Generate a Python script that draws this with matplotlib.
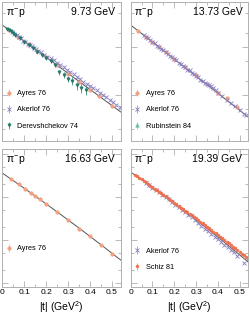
import matplotlib
matplotlib.use('Agg')
import matplotlib.pyplot as plt
from matplotlib.ticker import LogLocator, MultipleLocator, NullFormatter, FuncFormatter

plt.rcParams['font.family'] = ['Liberation Sans', 'DejaVu Sans']
plt.rcParams['mathtext.fontset'] = 'custom'
plt.rcParams['mathtext.rm'] = 'Liberation Sans'
plt.rcParams['mathtext.it'] = 'Liberation Sans'

# ---- 9.73 GeV ----
fit1_t = [0.0, 0.18, 0.36, 0.54]
fit1_y = [28.7, 7.15, 1.78, 0.444]
ayres1_t = [0.03, 0.07, 0.12, 0.16, 0.20, 0.25, 0.30, 0.35, 0.40, 0.44, 0.50]
ayres1_y = [22.9, 16.5, 11.4, 8.3, 6.1, 4.15, 2.8, 1.9, 1.28, 0.94, 0.6]
akerlof1_t = [0.045, 0.055, 0.065, 0.075, 0.085, 0.095, 0.105, 0.115, 0.125, 0.135,
              0.145, 0.155, 0.165, 0.175, 0.19, 0.205, 0.22, 0.235, 0.25, 0.265,
              0.28, 0.295, 0.31, 0.325, 0.34, 0.355, 0.37, 0.385, 0.40, 0.415,
              0.43, 0.445, 0.46, 0.475, 0.49, 0.505, 0.52, 0.535]
akerlof1_y = [20.6, 18.5, 17.6, 16.0, 15.2, 13.6, 13.0, 11.7, 11.1, 10.3,
              9.5, 8.9, 8.2, 7.7, 6.9, 6.3, 5.8, 5.3, 4.7, 4.2,
              3.8, 3.35, 3.0, 2.7, 2.4, 2.15, 1.9, 1.72, 1.55, 1.4,
              1.25, 1.12, 1.0, 0.9, 0.8, 0.7, 0.63, 0.56]
derev1_t = [0.02, 0.03, 0.04, 0.05, 0.06, 0.08, 0.10, 0.12, 0.14, 0.16, 0.18,
            0.20, 0.22, 0.24, 0.26, 0.28, 0.30, 0.32, 0.34, 0.36, 0.38]
derev1_y = [24.0, 23.0, 21.1, 19.5, 18.0, 15.2, 13.0, 11.0, 9.5, 7.9, 6.9,
            5.8, 5.1, 4.3, 3.0, 2.6, 2.2, 2.0, 1.6, 1.4, 1.3]
derev1_rel = [0.04, 0.04, 0.04, 0.04, 0.05, 0.05, 0.05, 0.05, 0.06, 0.06, 0.07,
              0.08, 0.10, 0.10, 0.12, 0.14, 0.15, 0.18, 0.20, 0.20, 0.22]

# ---- 13.73 GeV ----
fit2_t = [0.0, 0.18, 0.36, 0.54]
fit2_y = [28.7, 6.59, 1.51, 0.347]
ayres2_t = [0.035, 0.07, 0.10, 0.13, 0.16, 0.20, 0.25, 0.30, 0.35, 0.40, 0.44, 0.49]
ayres2_y = [21.6, 16.4, 12.8, 10.1, 7.9, 5.7, 3.85, 2.6, 1.7, 1.12, 0.85, 0.55]
akerlof2_t = [0.06, 0.07, 0.08, 0.09, 0.10, 0.11, 0.12, 0.13, 0.14, 0.15,
              0.16, 0.17, 0.18, 0.19, 0.20, 0.21, 0.22, 0.23, 0.24, 0.25,
              0.26, 0.27, 0.28, 0.29, 0.30, 0.31, 0.32, 0.33, 0.34, 0.35,
              0.36, 0.37, 0.38, 0.39, 0.40, 0.42, 0.44, 0.46, 0.48, 0.50, 0.52, 0.53]
akerlof2_y = [17.9, 16.0, 15.2, 13.9, 12.5, 11.9, 10.7, 10.1, 9.0, 8.6,
              7.7, 7.3, 6.5, 6.2, 5.55, 5.3, 4.7, 4.5, 4.0, 3.8,
              3.4, 3.25, 2.9, 2.75, 2.45, 2.35, 2.08, 1.98, 1.76, 1.68,
              1.6, 1.52, 1.38, 1.25, 1.12, 0.95, 0.8, 0.68, 0.58, 0.49, 0.41, 0.375]
rubin2_t = []
rubin2_y = []

# ---- 16.63 GeV ----
fit3_t = [0.0, 0.09, 0.18, 0.27, 0.36, 0.45, 0.54]
fit3_y = [36.1, 17.4, 8.2, 3.81, 1.74, 0.778, 0.343]
ayres3_t = [0.04, 0.075, 0.105, 0.13, 0.15, 0.17, 0.20, 0.25, 0.30, 0.35, 0.40, 0.45, 0.50]
ayres3_y = [26.0, 19.8, 15.1, 12.7, 10.4, 9.1, 6.8, 4.6, 2.9, 1.85, 1.26, 0.77, 0.48]

# ---- 19.39 GeV ----
fit4_t = [0.0, 0.09, 0.18, 0.27, 0.36, 0.45, 0.54]
fit4_y = [38.1, 18.3, 8.51, 3.85, 1.71, 0.733, 0.308]
akerlof4_t = [0.07, 0.085, 0.10, 0.115, 0.13, 0.145, 0.16, 0.175, 0.19, 0.205,
              0.22, 0.235, 0.25, 0.265, 0.28, 0.295, 0.31, 0.325, 0.34, 0.355,
              0.37, 0.385, 0.40, 0.415, 0.43, 0.445, 0.46, 0.475, 0.49, 0.52]
akerlof4_y = [21.0, 18.8, 16.5, 14.6, 13.0, 11.3, 10.0, 8.8, 7.6, 6.7,
              5.9, 5.1, 4.45, 3.85, 3.35, 2.9, 2.5, 2.15, 1.85, 1.6,
              1.4, 1.2, 1.05, 0.9, 0.78, 0.68, 0.6, 0.53, 0.43, 0.3]
schiz4_t = [0.02, 0.03, 0.04, 0.05, 0.06, 0.07, 0.08, 0.09, 0.10, 0.11,
            0.12, 0.13, 0.14, 0.15, 0.16, 0.17, 0.18, 0.19, 0.20, 0.21,
            0.22, 0.23, 0.24, 0.25, 0.26, 0.27, 0.28, 0.29, 0.30, 0.31,
            0.32, 0.33, 0.34, 0.35, 0.36, 0.37, 0.38, 0.39, 0.40, 0.41,
            0.42, 0.43, 0.44, 0.45, 0.46, 0.47, 0.48, 0.49, 0.50, 0.51,
            0.52, 0.53, 0.54]
schiz4_y = [33.0, 30.3, 27.9, 25.6, 23.8, 21.8, 20.2, 18.5, 17.1, 15.7,
            14.5, 13.2, 12.3, 11.2, 10.3, 9.5, 8.7, 8.0, 7.35, 6.75,
            6.2, 5.7, 5.25, 4.85, 4.45, 4.1, 3.78, 3.46, 3.2, 2.93,
            2.68, 2.46, 2.25, 2.06, 1.88, 1.73, 1.58, 1.44, 1.32, 1.2,
            1.1, 1.0, 0.92, 0.84, 0.77, 0.7, 0.64, 0.58, 0.53, 0.48,
            0.44, 0.4, 0.36]

c_ayres = '#f4a07f'
c_akerlof = '#8a7fc0'
c_derev = '#1f7a68'
c_rubin = '#6dbfa8'
c_schiz = '#f0704e'
c_fit = '#555555'
c_frame = '#b0b0b0'


def pts(ax, t, y, rel, color, marker, label, ms=2.4, mfc=None):
    if isinstance(rel, float):
        err = [rel * v for v in y]
    else:
        err = [r * v for r, v in zip(rel, y)]
    return ax.errorbar(t, y, yerr=err, fmt=marker, color=color, ms=ms,
                       mfc=mfc if mfc else color, mec=color, mew=0.6,
                       elinewidth=0.5, capsize=0, label=label)


def style(ax, ylim, bottom):
    ax.set_yscale('log')
    ax.set_xlim(0, 0.54)
    ax.set_ylim(*ylim)
    ax.xaxis.set_major_locator(MultipleLocator(0.1))
    ax.xaxis.set_minor_locator(MultipleLocator(0.05))
    ax.yaxis.set_major_locator(LogLocator(base=10))
    ax.yaxis.set_minor_locator(LogLocator(base=10, subs=(2, 5)))
    ax.yaxis.set_major_formatter(NullFormatter())
    ax.yaxis.set_minor_formatter(NullFormatter())
    ax.tick_params(which='both', direction='in', top=True, right=True,
                   color=c_frame, width=0.6, labelsize=6, pad=1.5)
    ax.tick_params(which='major', length=4)
    ax.tick_params(which='minor', length=2)
    for s in ax.spines.values():
        s.set_color(c_frame)
        s.set_linewidth(0.7)
    if bottom:
        ax.xaxis.set_major_formatter(
            FuncFormatter(lambda v, _: '0' if abs(v) < 1e-9 else f'{v:.1f}'))
        ax.set_xlabel('|t| (GeV$^{2}$)', fontsize=7.5, labelpad=2)
    else:
        ax.xaxis.set_major_formatter(NullFormatter())


def labels(ax, energy):
    ax.text(0.03, 0.965, r'$\pi^{-}$p', transform=ax.transAxes, fontsize=7.5,
            ha='left', va='top')
    ax.text(0.95, 0.965, energy, transform=ax.transAxes, fontsize=7.5,
            ha='right', va='top')


def leg(ax, anchor):
    ax.legend(loc='lower left', bbox_to_anchor=anchor, frameon=False,
              fontsize=5.3, handlelength=0.8, handletextpad=0.7,
              labelspacing=1.25, borderpad=0.2, borderaxespad=0)


fig = plt.figure(figsize=(2.5, 3.22), dpi=100)
ax1 = fig.add_axes([0.0092, 0.562, 0.4736, 0.432])
ax2 = fig.add_axes([0.5228, 0.562, 0.4704, 0.432])
ax3 = fig.add_axes([0.0092, 0.1087, 0.4736, 0.4286])
ax4 = fig.add_axes([0.5228, 0.1087, 0.4704, 0.4286])

top_lim = (0.11, 87)
bot_lim = (0.081, 131)

# 9.73
ax1.plot(fit1_t, fit1_y, color=c_fit, lw=0.7, zorder=1)
pts(ax1, ayres1_t, ayres1_y, 0.05, c_ayres, 'o', 'Ayres 76')
pts(ax1, akerlof1_t, akerlof1_y, 0.04, c_akerlof, 'x', 'Akerlof 76')
pts(ax1, derev1_t, derev1_y, derev1_rel, c_derev, 'v', 'Derevshchekov 74', ms=2.2)
style(ax1, top_lim, False)
labels(ax1, '9.73 GeV')
leg(ax1, (0.02, 0.07))

# 13.73
ax2.plot(fit2_t, fit2_y, color=c_fit, lw=0.7, zorder=1)
pts(ax2, ayres2_t, ayres2_y, 0.05, c_ayres, 'o', 'Ayres 76')
pts(ax2, akerlof2_t, akerlof2_y, 0.04, c_akerlof, 'x', 'Akerlof 76')
pts(ax2, rubin2_t, rubin2_y, 0.05, c_rubin, '^', 'Rubinstein 84')
style(ax2, top_lim, False)
labels(ax2, '13.73 GeV')
leg(ax2, (0.02, 0.07))

# 16.63
ax3.plot(fit3_t, fit3_y, color=c_fit, lw=0.7, zorder=1)
pts(ax3, ayres3_t, ayres3_y, 0.05, c_ayres, 'o', 'Ayres 76')
style(ax3, bot_lim, True)
labels(ax3, '16.63 GeV')
leg(ax3, (0.02, 0.24))

# 19.39
ax4.plot(fit4_t, fit4_y, color=c_fit, lw=0.7, zorder=1)
pts(ax4, akerlof4_t, akerlof4_y, 0.05, c_akerlof, 'x', 'Akerlof 76')
pts(ax4, schiz4_t, schiz4_y, 0.04, c_schiz, 'o', 'Schiz 81', ms=1.8)
style(ax4, bot_lim, True)
labels(ax4, '19.39 GeV')
leg(ax4, (0.02, 0.105))

fig.savefig('out.png', dpi=100)
